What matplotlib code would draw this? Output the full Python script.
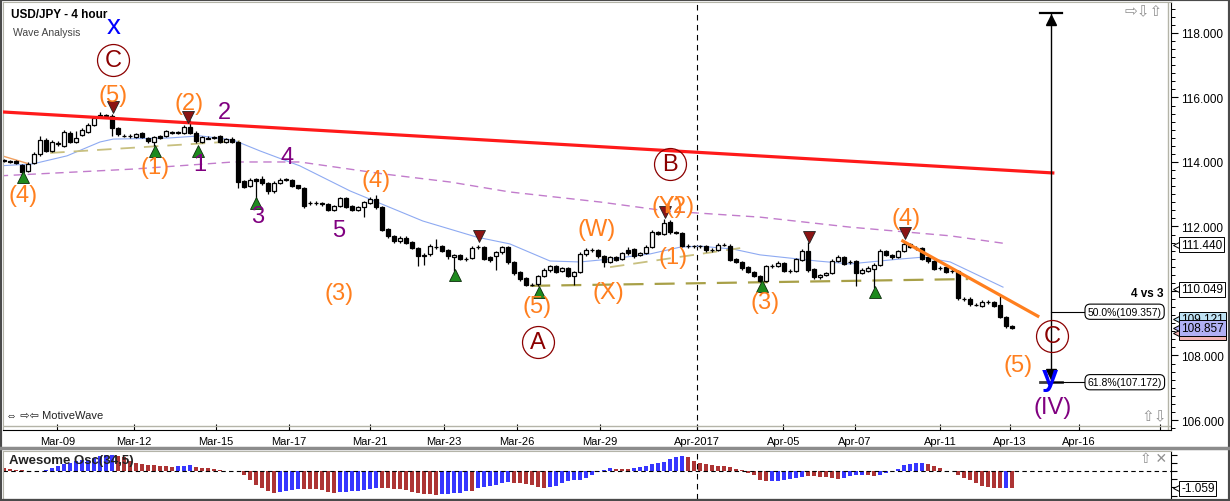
import numpy as np
import matplotlib
matplotlib.use("Agg")
import matplotlib.pyplot as plt
from matplotlib.lines import Line2D
from matplotlib.patches import Rectangle
from matplotlib.transforms import blended_transform_factory

plt.rcParams['font.family'] = ['Liberation Sans', 'DejaVu Sans']

# --- USD/JPY 4h candles ---
opens = [114.03, 114.04, 114.03, 113.90, 113.72, 113.97, 114.25, 114.68, 114.34, 114.56,
         114.50, 114.90, 114.62, 114.84, 114.93, 115.15, 115.44, 115.47, 115.44, 115.05,
         114.80, 114.82, 114.78, 114.90, 114.74, 114.62, 114.80, 114.80, 114.90, 114.92,
         114.90, 115.08, 114.90, 114.62, 114.72, 114.74, 114.80, 114.62, 114.71, 114.62,
         113.40, 113.26, 113.46, 113.47, 113.35, 113.10, 113.35, 113.44, 113.44, 113.28,
         113.19, 112.72, 112.74, 112.70, 112.70, 112.51, 112.63, 112.88, 112.62, 112.51,
         112.60, 112.73, 112.85, 112.60, 111.92, 111.70, 111.55, 111.64, 111.52, 111.33,
         111.08, 111.15, 111.35, 111.39, 111.27, 111.06, 111.12, 110.98, 111.02, 111.35,
         111.36, 111.05, 111.08, 111.20, 111.36, 110.90, 110.59, 110.40, 110.20, 110.22,
         110.46, 110.65, 110.77, 110.62, 110.71, 110.46, 110.59, 111.15, 111.26, 111.27,
         111.08, 110.90, 111.05, 110.99, 111.27, 111.30, 111.12, 111.18, 111.36, 111.83,
         111.77, 112.14, 111.83, 111.80, 111.38, 111.40, 111.38, 111.39, 111.26, 111.27,
         111.42, 111.39, 110.99, 110.90, 110.74, 110.59, 110.47, 110.31, 110.76, 110.77,
         110.87, 110.61, 110.62, 110.96, 111.24, 110.68, 110.43, 110.50, 110.56, 110.93,
         111.05, 110.89, 110.93, 110.56, 110.62, 110.68, 110.81, 111.24, 111.12, 111.05,
         111.24, 111.46, 111.32, 111.33, 111.05, 110.93, 110.70, 110.74, 110.61, 110.62,
         109.74, 109.75, 109.56, 109.53, 109.65, 109.66, 109.57, 109.19, 108.90]
highs = [114.08, 114.07, 114.06, 113.95, 114.00, 114.30, 114.82, 114.75, 114.68, 114.64,
         115.00, 114.95, 114.96, 115.05, 115.20, 115.42, 115.55, 115.50, 115.50, 115.08,
         114.86, 114.86, 114.90, 114.93, 114.78, 114.82, 114.84, 115.00, 114.97, 114.95,
         115.15, 115.30, 114.95, 114.82, 114.80, 114.82, 114.84, 114.75, 114.78, 114.65,
         113.45, 113.50, 113.50, 113.55, 113.38, 113.40, 113.50, 113.50, 113.48, 113.30,
         113.22, 112.78, 112.78, 112.75, 112.74, 112.66, 112.92, 112.92, 112.66, 112.64,
         112.80, 112.90, 112.98, 112.65, 111.96, 111.75, 111.72, 111.70, 111.56, 111.36,
         111.18, 111.45, 111.60, 111.42, 111.30, 111.16, 111.15, 111.05, 111.38, 111.43,
         111.40, 111.08, 111.24, 111.40, 111.40, 110.93, 110.62, 110.43, 110.25, 110.50,
         110.70, 110.82, 110.80, 110.75, 110.75, 110.63, 111.20, 111.32, 111.33, 111.30,
         111.12, 111.08, 111.08, 111.22, 111.35, 111.34, 111.22, 111.42, 111.88, 111.86,
         112.23, 112.20, 111.86, 111.84, 111.45, 111.44, 111.44, 111.42, 111.32, 111.50,
         111.50, 111.45, 111.02, 110.93, 110.77, 110.62, 110.50, 110.80, 110.83, 110.92,
         110.90, 110.68, 111.03, 111.30, 111.52, 110.72, 110.54, 110.60, 110.98, 111.12,
         111.08, 110.96, 110.97, 110.70, 110.76, 110.86, 111.30, 111.28, 111.15, 111.28,
         111.52, 111.50, 111.40, 111.36, 111.08, 110.96, 110.76, 110.78, 110.68, 110.66,
         109.82, 109.80, 109.63, 109.72, 109.72, 109.70, 109.85, 109.22, 108.95]
lows = [114.00, 113.98, 113.94, 113.60, 113.68, 113.93, 114.20, 114.30, 114.30, 114.50,
        114.45, 114.58, 114.58, 114.80, 114.90, 115.10, 115.38, 115.38, 114.80, 114.80,
        114.76, 114.74, 114.74, 114.74, 114.58, 114.50, 114.70, 114.76, 114.86, 114.86,
        114.86, 114.86, 114.60, 114.58, 114.70, 114.70, 114.58, 114.60, 114.58, 113.20,
        113.18, 113.22, 112.79, 113.30, 113.00, 113.05, 113.32, 113.40, 113.22, 113.15,
        112.58, 112.68, 112.68, 112.65, 112.47, 112.48, 112.60, 112.56, 112.48, 112.47,
        112.30, 112.70, 112.55, 111.85, 111.65, 111.50, 111.50, 111.45, 111.30, 110.78,
        110.80, 111.10, 111.30, 111.20, 111.00, 110.62, 110.95, 110.94, 110.98, 111.30,
        110.95, 110.90, 110.65, 111.16, 110.85, 110.50, 110.30, 110.15, 110.14, 110.15,
        110.42, 110.60, 110.55, 110.58, 110.42, 110.19, 110.55, 111.10, 111.22, 111.03,
        110.74, 110.86, 110.92, 110.95, 111.12, 111.02, 111.08, 111.14, 111.32, 111.73,
        111.73, 111.78, 111.76, 111.35, 111.34, 111.34, 111.34, 111.22, 111.22, 111.24,
        111.38, 110.92, 110.86, 110.66, 110.55, 110.42, 110.27, 110.28, 110.72, 110.73,
        110.58, 110.57, 110.58, 110.92, 110.60, 110.38, 110.38, 110.46, 110.52, 110.90,
        110.80, 110.85, 110.16, 110.52, 110.58, 110.09, 110.78, 111.08, 111.00, 111.02,
        111.20, 111.32, 111.28, 110.95, 110.88, 110.64, 110.66, 110.55, 110.57, 109.72,
        109.70, 109.55, 109.52, 109.50, 109.60, 109.50, 109.15, 108.86, 108.82]
closes = [114.05, 114.01, 113.97, 113.69, 113.95, 114.25, 114.68, 114.34, 114.62, 114.58,
          114.93, 114.62, 114.74, 115.00, 115.15, 115.37, 115.46, 115.42, 115.05, 114.87,
          114.82, 114.80, 114.87, 114.78, 114.65, 114.78, 114.74, 114.96, 114.92, 114.90,
          115.08, 114.90, 114.65, 114.78, 114.74, 114.76, 114.62, 114.71, 114.62, 113.38,
          113.22, 113.44, 113.42, 113.35, 113.10, 113.35, 113.44, 113.46, 113.26, 113.19,
          112.63, 112.74, 112.72, 112.71, 112.51, 112.63, 112.88, 112.60, 112.51, 112.60,
          112.76, 112.85, 112.60, 111.89, 111.70, 111.55, 111.64, 111.49, 111.33, 111.08,
          111.12, 111.40, 111.37, 111.24, 111.08, 111.12, 110.99, 111.00, 111.33, 111.37,
          110.99, 110.96, 111.20, 111.36, 110.90, 110.56, 110.37, 110.19, 110.18, 110.46,
          110.65, 110.77, 110.59, 110.71, 110.46, 110.59, 111.15, 111.27, 111.28, 111.08,
          110.90, 111.05, 110.96, 111.18, 111.18, 111.08, 111.18, 111.36, 111.83, 111.77,
          112.11, 111.83, 111.80, 111.39, 111.40, 111.38, 111.40, 111.27, 111.28, 111.43,
          111.44, 110.96, 110.90, 110.71, 110.59, 110.46, 110.31, 110.77, 110.78, 110.87,
          110.62, 110.63, 110.99, 111.24, 110.65, 110.43, 110.50, 110.56, 110.93, 111.05,
          110.84, 110.91, 110.56, 110.65, 110.71, 110.81, 111.24, 111.12, 111.05, 111.24,
          111.46, 111.36, 111.34, 110.99, 110.93, 110.68, 110.72, 110.59, 110.63, 109.78,
          109.76, 109.60, 109.58, 109.66, 109.67, 109.53, 109.19, 108.91, 108.86]

# Awesome Oscillator (34,5), one bar per candle
ao_values = [0.22, 0.12, 0.10, 0.06, 0.04, -0.02, 0.02, 0.10, 0.20, 0.31,
             0.41, 0.51, 0.61, 0.69, 0.71, 0.80, 0.90, 1.00, 1.02, 0.94,
             0.84, 0.65, 0.53, 0.45, 0.39, 0.35, 0.31, 0.29, 0.28, 0.31,
             0.33, 0.35, 0.25, 0.22, 0.18, 0.14, 0.10, 0.04, 0.01, -0.02,
             -0.24, -0.53, -0.82, -1.02, -1.22, -1.31, -1.30, -1.24, -1.16, -1.08,
             -1.09, -1.10, -1.12, -1.16, -1.27, -1.32, -1.29, -1.27, -1.24, -1.20,
             -1.16, -1.12, -1.04, -1.05, -1.06, -1.08, -1.12, -1.16, -1.27, -1.35,
             -1.41, -1.43, -1.45, -1.43, -1.39, -1.35, -1.31, -1.22, -1.23, -1.02,
             -0.96, -0.92, -0.84, -0.73, -0.69, -0.70, -0.73, -0.76, -0.82, -0.96,
             -1.02, -1.00, -0.88, -0.73, -0.63, -0.53, -0.52, -0.43, -0.24, -0.04,
             0.10, 0.22, 0.16, 0.15, 0.14, 0.20, 0.25, 0.33, 0.41, 0.49,
             0.59, 0.75, 0.88, 0.90, 0.84, 0.65, 0.53, 0.41, 0.35, 0.34,
             0.31, 0.25, 0.12, 0.06, -0.14, -0.25, -0.53, -0.63, -0.62, -0.59,
             -0.53, -0.45, -0.39, -0.33, -0.30, -0.31, -0.33, -0.37, -0.43, -0.45,
             -0.39, -0.29, -0.25, -0.24, -0.26, -0.29, -0.22, -0.14, 0.00, 0.16,
             0.35, 0.45, 0.49, 0.50, 0.45, 0.31, 0.20, 0.04, 0.00, -0.24,
             -0.43, -0.53, -0.73, -0.88, -0.98, -1.03, -1.04, -1.02, -1.059]
ao_colors = ("rrrrrrbbbb" "bbbbbbbbbr" "rrrrrrrrrb" "bbrrrrrrrr" "rrrrrrbbbb"
             "rrrrrrbbbb" "bbbrrrrrrr" "rrrbbbbbrb" "bbbbbrrrrr" "rbbbbbbbbb"
             "bbrrrbbbbb" "bbbbrrrrrr" "rrrrrrrrbb" "bbbbrrrrrr" "bbbbrrbbbb"
             "bbbbrrrrrr" "rrrrrrrbr")

# date axis (bar index of each label)
date_ticks = [8.9, 21.6, 35.3, 47.5, 61.0, 73.3, 85.5, 99.3, 115.5,
              129.9, 141.8, 156.0, 167.7, 179.2, 192.7]
date_labels = ["Mar-09", "Mar-12", "Mar-15", "Mar-17", "Mar-21", "Mar-23", "Mar-26",
               "Mar-29", "Apr-2017", "Apr-05", "Apr-07", "Apr-11", "Apr-13", "Apr-16", ""]

# moving averages
ma_fast_x = [-0.7, 4.8, 10.5, 16, 18.2, 27.2, 32.7, 38.2, 42.7, 49.3, 57.7, 69.8, 78.8,
             84.3, 91, 96, 101, 107.7, 112.7, 116, 121.5, 126, 135.5, 141, 149.3,
             153.2, 157.7, 166.5]
ma_fast_y = [113.88, 113.94, 114.19, 114.62, 114.71, 114.74, 114.81, 114.68, 114.34,
             113.88, 113.10, 112.17, 111.67, 111.46, 110.93, 110.90, 110.99, 111.15,
             111.36, 111.39, 111.30, 111.12, 110.93, 110.84, 110.99, 111.05, 110.90, 110.12]
ma_slow_x = [-0.7, 21.5, 38.2, 49.3, 63.2, 74.3, 84.3, 99.3, 110.5, 126, 141, 157.7, 167.3]
ma_slow_y = [113.57, 113.78, 114.00, 114.00, 113.63, 113.38, 113.07, 112.76, 112.48,
             112.29, 111.98, 111.71, 111.46]

# wave labels: text, bar, price, colour
ORANGE, PURPLE, DRED, BLUE = '#ff7f1e', '#800080', '#8b0000', '#0000ff'
wave_labels = [
    ("(5)", 18.2, 116.08, ORANGE), ("(2)", 30.8, 115.83, ORANGE), ("2", 36.7, 115.55, PURPLE),
    ("(1)", 25.2, 113.84, ORANGE), ("1", 32.7, 113.94, PURPLE), ("(4)", 3.2, 112.98, ORANGE),
    ("4", 47.2, 114.16, PURPLE), ("3", 42.3, 112.33, PURPLE), ("(4)", 62.0, 113.44, ORANGE),
    ("5", 55.8, 111.89, PURPLE), ("(3)", 55.8, 109.94, ORANGE), ("(5)", 88.8, 109.53, ORANGE),
    ("(W)", 98.7, 111.92, ORANGE), ("(X)", 100.8, 109.97, ORANGE), ("(Y)", 110.6, 112.64, ORANGE),
    ("(2)", 112.6, 112.64, ORANGE), ("(1)", 111.5, 111.05, ORANGE), ("(3)", 126.8, 109.66, ORANGE),
    ("(4)", 150.3, 112.26, ORANGE), ("(5)", 169.0, 107.71, ORANGE), ("(IV)", 174.7, 106.40, PURPLE),
]
circled = [("C", 18.2, 117.16), ("A", 89.0, 108.42), ("B", 111.0, 113.94), ("C", 174.7, 108.60)]
tops = [(18.2, 115.71), (30.7, 115.40), (79.2, 111.70), (110.2, 112.45), (134.2, 111.67), (150.2, 111.80)]
bottoms = [(3.2, 113.53), (25.2, 114.34), (32.3, 114.34), (42.0, 112.73), (75.2, 110.50),
           (89.2, 109.97), (126.3, 110.16), (145.2, 109.97)]

W, H = 1230, 502
fig = plt.figure(figsize=(W / 100, H / 100), dpi=100)
ax = fig.add_axes([3 / W, (H - 431) / H, 1168 / W, 428 / H])
ax2 = fig.add_axes([3 / W, 2 / H, 1168 / W, 48 / H])

x = np.arange(len(opens))
o = np.array(opens)
c = np.array(closes)
up = c >= o

# --- price panel ---
ax.vlines(x, lows, highs, color='black', lw=0.9, zorder=3)
ax.bar(x, np.maximum(np.abs(c - o), 0.02), bottom=np.minimum(o, c), width=0.8,
       color=np.where(up, 'white', 'black'), edgecolor='black', linewidth=0.9, zorder=4)

ax.plot(ma_fast_x, ma_fast_y, color='#8eaaf2', lw=0.8, zorder=2)
ax.plot(ma_slow_x, ma_slow_y, color='#c27ccc', lw=1.0, dashes=(6, 4), zorder=2)
ax.plot([-0.5, 4.0], [114.20, 113.95], color='#f0a060', lw=1.0, zorder=2)
ax.plot([7.7, 39.3], [114.28, 114.65], color='#c8c080', lw=1.3, dashes=(8, 5), zorder=2)
ax.plot([101.0, 122.7], [110.74, 111.33], color='#c8c080', lw=1.3, dashes=(8, 5), zorder=2)
ax.plot([87.7, 160.7], [110.16, 110.37], color='#a8a048', lw=1.6, dashes=(9, 5), zorder=2)

ax.plot([-0.17, 174.8], [115.55, 113.66], color='#ff1a1a', lw=2.3, zorder=5)
ax.plot([149.8, 172.3], [111.55, 109.22], color='#ff7f1e', lw=2.3, zorder=5)
ax.axvline(115.5, color='black', lw=0.8, dashes=(5, 4), zorder=1)

for tx, ty in tops:
    ax.plot(tx, ty, marker='v', ms=9, mfc='#8b1414', mec='#222222', mew=0.6, zorder=6)
for tx, ty in bottoms:
    ax.plot(tx, ty, marker='^', ms=9, mfc='#1e8a1e', mec='#0c2c0c', mew=0.6, zorder=6)

for txt, tx, ty, col in wave_labels:
    ax.text(tx, ty, txt, color=col, fontsize=17, ha='center', va='center', zorder=7)
for txt, tx, ty in circled:
    ax.plot(tx, ty, marker='o', ms=23, mfc='none', mec=DRED, mew=0.9, zorder=7)
    ax.text(tx, ty, txt, color=DRED, fontsize=17, ha='center', va='center', zorder=7)
ax.text(18.2, 118.22, "x", color=BLUE, fontsize=20, ha='center', va='center', zorder=7)
ax.text(174.3, 107.33, "y", color=BLUE, fontsize=21, fontweight='bold', ha='center', va='center', zorder=8)

# measuring tool with fibonacci targets
ax.plot([174.5, 174.5], [107.25, 118.62], color='black', lw=1.0, zorder=6)
ax.plot([172.7, 176.3], [118.62, 118.62], color='black', lw=1.6, zorder=6)
ax.plot(174.5, 118.40, marker='^', ms=7, color='black', zorder=6)
ax.plot(174.5, 107.42, marker='v', ms=7, color='black', zorder=6)
ax.plot([172.7, 176.3], [107.172, 107.172], color='#404040', lw=2.0, zorder=6)
for lvl, lab in [(109.357, "50.0%(109.357)"), (107.172, "61.8%(107.172)")]:
    ax.plot([174.5, 180.2], [lvl, lvl], color='black', lw=0.8, zorder=6)
    ax.text(180.6, lvl, lab, fontsize=7.5, ha='left', va='center', zorder=7,
            bbox=dict(boxstyle='round,pad=0.25,rounding_size=0.5', fc='white', ec='black', lw=0.8))
ax.text(193.2, 109.94, "4 vs 3", fontsize=8.5, fontweight='bold', ha='right', va='center')

ax.set_xlim(-0.17, 194.5)
ax.set_ylim(105.69, 118.96)
ax.set_xticks(date_ticks)
ax.set_xticklabels(date_labels)
ax.tick_params(axis='x', direction='in', length=4, width=0.8, labelsize=8, pad=4)
ax.yaxis.tick_right()
ax.set_yticks([106, 108, 110, 112, 114, 116, 118])
ax.set_yticklabels(["106.000", "108.000", "", "112.000", "114.000", "116.000", "118.000"])
ax.set_yticks(np.arange(105.75, 119.0, 0.25), minor=True)
ax.tick_params(axis='y', which='major', direction='out', length=5, width=0.8, labelsize=8.5, pad=2)
ax.tick_params(axis='y', which='minor', direction='out', length=3, width=0.7)
for side in ['top', 'left']:
    ax.spines[side].set_color('#b4b4a8')
ax.axhline(105.81, color='#b4b4a8', lw=1.0)
ax.axvline(194.0, color='#b4b4a8', lw=1.0)

# price tags on the right axis
tr = blended_transform_factory(ax.transAxes, ax.transData)
tags = [(111.44, "111.440", 'white', 10), (110.049, "110.049", 'white', 10),
        (108.712, "108.712", '#f2b4b4', 10), (109.121, "109.121", '#bfe2f4', 11),
        (108.857, "108.857", '#b0b0f4', 12)]
for price, lab, fc, z in tags:
    ax.plot(1.0 + 5 / 1168, price, transform=tr, marker='<', ms=5, mfc=fc, mec='black',
            mew=0.7, clip_on=False, zorder=z)
    ax.text(1.0 + 10 / 1168, price, lab, transform=tr, fontsize=8.5, ha='left', va='center',
            zorder=z, clip_on=False,
            bbox=dict(boxstyle='square,pad=0.15', fc=fc, ec='black', lw=0.7))

# --- Awesome oscillator panel ---
cmap = {'r': '#ad3434', 'b': '#3636ff'}
ax2.bar(x, ao_values, width=0.82, color=[cmap[k] for k in ao_colors], linewidth=0)
ax2.axhline(0, color='black', lw=0.8, dashes=(4, 3))
ax2.axvline(115.5, color='black', lw=0.8, dashes=(5, 4))
ax2.set_xlim(-0.17, 194.5)
ax2.set_ylim(-1.706, 1.235)
ax2.set_xticks([])
ax2.yaxis.tick_right()
ax2.set_yticks([-1.5, -1.0, -0.5, 0.0, 0.5, 1.0])
ax2.set_yticklabels([])
ax2.tick_params(axis='y', direction='out', length=4, width=0.8)
for side in ['top', 'left']:
    ax2.spines[side].set_color('#b4b4a8')
tr2 = blended_transform_factory(ax2.transAxes, ax2.transData)
ax2.text(1.0 + 10 / 1168, -1.059, "-1.059", transform=tr2, fontsize=8.5, ha='left', va='center',
         clip_on=False, bbox=dict(boxstyle='square,pad=0.15', fc='white', ec='black', lw=0.7))
ax2.plot(1.0 + 5 / 1168, -1.059, transform=tr2, marker='<', ms=5, mfc='white', mec='black',
         mew=0.7, clip_on=False)

# --- texts and frame ---
fig.text(11 / W, 1 - 15 / H, "USD/JPY - 4 hour", fontsize=8.5, fontweight='bold', va='center')
fig.text(13 / W, 1 - 33 / H, "Wave Analysis", fontsize=7.5, color='#444444', va='center')
fig.text(6 / W, 1 - 416 / H, "⇔ ⇨⇦ MotiveWave", fontsize=8, color='#222222', va='center')
fig.text(1144 / W, 1 - 12 / H, "⇨⇩⇧", fontsize=11, color='#909090', ha='center', va='center')
fig.text(1154 / W, 1 - 417 / H, "⇧⇩", fontsize=11, color='#909090', ha='center', va='center')
fig.text(1154 / W, 1 - 459 / H, "⇧ ✕", fontsize=10, color='#909090', ha='center', va='center')
fig.text(9 / W, 1 - 461 / H, "Awesome Osc(34,5)", fontsize=9.5, fontweight='bold',
         color='#222222', va='center', zorder=10)
fig.add_artist(Line2D([0, 1], [53 / H, 53 / H], color='#8c8c8c', lw=2.5, transform=fig.transFigure))
fig.add_artist(Rectangle((0, 0), 1, 1, transform=fig.transFigure, fill=False, ec='#4a4a4a', lw=3))

fig.savefig("out.png", dpi=100)
